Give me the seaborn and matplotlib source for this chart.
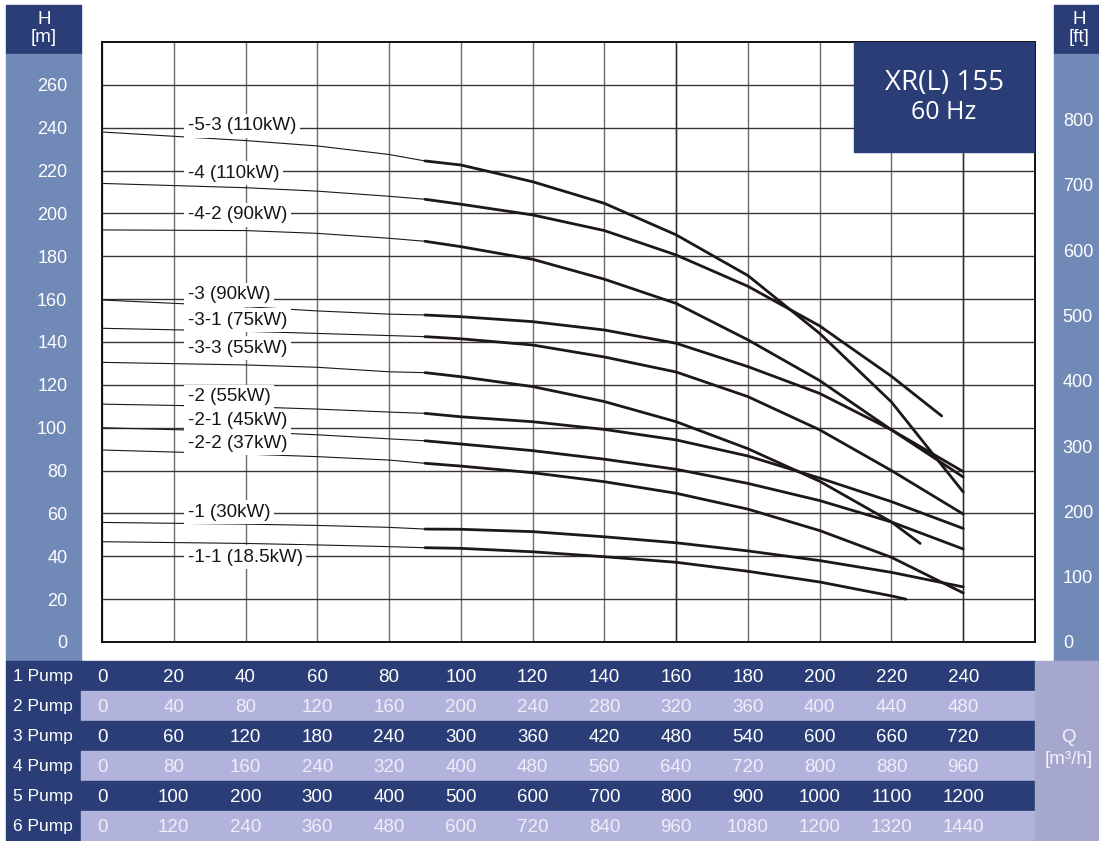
import matplotlib
matplotlib.use("Agg")
import matplotlib.pyplot as plt
from matplotlib.patches import Rectangle
from matplotlib.transforms import blended_transform_factory
import seaborn as sns

sns.set_theme(style="white")
plt.rcParams["font.family"] = ["Liberation Sans", "DejaVu Sans"]

navy = "#2a3d76"
steel = "#7189b6"
lav = "#b1b3dc"
qcol = "#a5a8cc"
ink = "#1e1717"

# pump curves, H [m] vs Q [m3/h] (1 pump)
q_std = [0, 40, 60, 80, 90, 100, 120, 140, 160, 180, 200, 220, 240]
q_4 = [0, 40, 60, 80, 90, 100, 120, 140, 160, 180, 200, 220, 234]
q_33 = [0, 40, 60, 80, 90, 100, 120, 140, 160, 180, 200, 220, 228]
q_11 = [0, 40, 60, 80, 90, 100, 120, 140, 160, 180, 200, 220, 224]
h_53 = [238, 234, 231.5, 227.5, 224.5, 222.6, 214.8, 204.7, 190, 171, 144, 112, 70]
h_4 = [214, 212, 210.4, 208, 206.6, 204.3, 199.3, 192, 180.6, 166, 147.5, 124, 105.5]
h_42 = [192.3, 192, 190.7, 188.4, 187, 184.5, 178.6, 169.3, 158, 141, 122, 99, 77]
h_3 = [159.6, 156.5, 154.5, 153, 152.6, 151.8, 149.5, 145.6, 139.4, 128.5, 116, 99, 79.5]
h_31 = [146.4, 145, 144, 143, 142.5, 141.5, 138.6, 133, 126, 114.5, 99, 80, 59.7]
h_33 = [130.5, 129.3, 128.2, 126.1, 125.7, 123.8, 119.2, 112.2, 102.8, 90.2, 75, 56, 46]
h_2 = [111, 109.8, 108.7, 107.3, 106.7, 105.1, 102.8, 99.2, 94.3, 86.8, 76.5, 65.5, 53]
h_21 = [100, 98.2, 96.7, 94.8, 93.9, 92.4, 89.3, 85.3, 80.6, 74, 66, 56, 43.4]
h_22 = [89.6, 87.7, 86.5, 84.9, 83.4, 82.1, 79, 74.8, 69.4, 62, 52, 39.5, 22.9]
h_1 = [55.8, 55, 54.4, 53.5, 52.7, 52.6, 51.5, 49.1, 46.3, 42.5, 38, 32.5, 25.7]
h_11 = [46.8, 46, 45.3, 44.5, 44, 43.7, 42.1, 39.8, 37.2, 33, 28, 21.5, 20]

curves = [(q_std, h_53), (q_4, h_4), (q_std, h_42), (q_std, h_3), (q_std, h_31),
          (q_33, h_33), (q_std, h_2), (q_std, h_21), (q_std, h_22), (q_std, h_1),
          (q_11, h_11)]

labels = ["-5-3 (110kW)", "-4 (110kW)", "-4-2 (90kW)", "-3 (90kW)", "-3-1 (75kW)",
          "-3-3 (55kW)", "-2 (55kW)", "-2-1 (45kW)", "-2-2 (37kW)", "-1 (30kW)",
          "-1-1 (18.5kW)"]
label_h = [241, 218.7, 199.3, 162, 150.2, 137, 114.5, 103.3, 92.7, 60.5, 39.5]

h_ticks = list(range(0, 261, 20))
ft_ticks = list(range(0, 801, 100))
q_ticks = list(range(0, 241, 20))
pumps = [1, 2, 3, 4, 5, 6]

W, H = 1099, 841
fig = plt.figure(figsize=(W / 100, H / 100), dpi=100)
ax = fig.add_axes([102 / W, 1 - 642 / H, 933 / W, 600 / H])
ax.set_zorder(2)


def frect(x0, y0, x1, y1, color):
    fig.patches.append(Rectangle((x0 / W, 1 - y1 / H), (x1 - x0) / W, (y1 - y0) / H,
                                 transform=fig.transFigure, color=color, zorder=-5))


# side panels and table background
frect(6, 5, 81, 54, navy)
frect(6, 54, 81, 661, steel)
frect(1054, 5, 1099, 54, navy)
frect(1054, 54, 1099, 661, steel)
for i in range(6):
    y0 = 661 + 30 * i
    frect(6, y0, 81, y0 + 30, navy)
    frect(81, y0, 1035, y0 + 30, navy if i % 2 == 0 else lav)
frect(1035, 661, 1099, 841, qcol)

fig.text(44 / W, 1 - 20 / H, "H", color="white", fontsize=13.5, ha="center", va="center")
fig.text(44 / W, 1 - 37 / H, "[m]", color="white", fontsize=13.5, ha="center", va="center")
fig.text(1079 / W, 1 - 20 / H, "H", color="white", fontsize=13.5, ha="center", va="center")
fig.text(1079 / W, 1 - 37 / H, "[ft]", color="white", fontsize=13.5, ha="center", va="center")
fig.text(1068 / W, 1 - 738 / H, "Q", color="#f2f2fa", fontsize=13.5, ha="center", va="center")
fig.text(1069 / W, 1 - 759 / H, "[m³/h]", color="#f2f2fa", fontsize=13.5, ha="center", va="center")

# grid
ax.set_xlim(0, 260)
ax.set_ylim(0, 280)
ax.set_xticks(list(range(0, 261, 20)))
ax.set_yticks(h_ticks)
ax.grid(axis="x", color="#6f6969", linewidth=1.0, zorder=1)
ax.grid(axis="y", color="#3a3535", linewidth=1.0, zorder=1)
for xv in (160, 240):
    ax.axvline(xv, color="#2e2828", linewidth=1.0, zorder=1.5)
ax.set_axisbelow(True)
for s in ax.spines.values():
    s.set_color("#111111")
    s.set_linewidth(1.4)
ax.tick_params(axis="x", length=0, labelbottom=False)
ax.tick_params(axis="y", length=0, pad=25, labelcolor="white", labelsize=13)
ax.set_yticklabels([str(v) for v in h_ticks])

ax2 = ax.twinx()
ax2.set_zorder(3)
ax2.patch.set_visible(False)
ax2.set_ylim(0, 280 * 3.28084)
ax2.set_yticks(ft_ticks)
ax2.set_yticklabels([str(v) for v in ft_ticks])
ax2.tick_params(axis="y", length=0, pad=20, labelcolor="white", labelsize=13)
ax2.grid(False)
for s in ax2.spines.values():
    s.set_visible(False)

# curves: thin up to 90 m3/h, thick beyond
for q, h in curves:
    k = q.index(90)
    sns.lineplot(x=q[:k + 1], y=h[:k + 1], ax=ax, color=ink, linewidth=0.8,
                 estimator=None, sort=False, zorder=3)
    sns.lineplot(x=q[k:], y=h[k:], ax=ax, color=ink, linewidth=2.0,
                 estimator=None, sort=False, zorder=3)

for lab, yv in zip(labels, label_h):
    ax.text(23.9, yv, lab, fontsize=13.5, color="#1a1414", ha="left", va="center", zorder=4,
            bbox=dict(facecolor="white", edgecolor="none", pad=2.5))

# title box
ax.add_patch(Rectangle((0.806, 0.8167), 0.194, 0.1833, transform=ax.transAxes,
                       color=navy, zorder=5))
ax.text(0.9025, 0.932, "XR(L) 155", transform=ax.transAxes, color="white",
        fontsize=20, family="Open Sans", ha="center", va="center", zorder=6)
ax.text(0.9025, 0.882, "60 Hz", transform=ax.transAxes, color="white",
        fontsize=18, family="Open Sans", ha="center", va="center", zorder=6)

# flow table
tr = blended_transform_factory(ax.transData, fig.transFigure)
for i, n in enumerate(pumps):
    yc = 1 - (676 + 30 * i) / H
    col = "white" if i % 2 == 0 else "#eeeef8"
    fig.text(13 / W, yc, f"{n} Pump", color="white", fontsize=12.5, ha="left", va="center")
    for q in q_ticks:
        ax.text(q, yc - 1.5 / H, str(q * n), transform=tr, color=col, fontsize=13.5,
                ha="center", va="center", clip_on=False)

fig.savefig("out.png", dpi=100)
